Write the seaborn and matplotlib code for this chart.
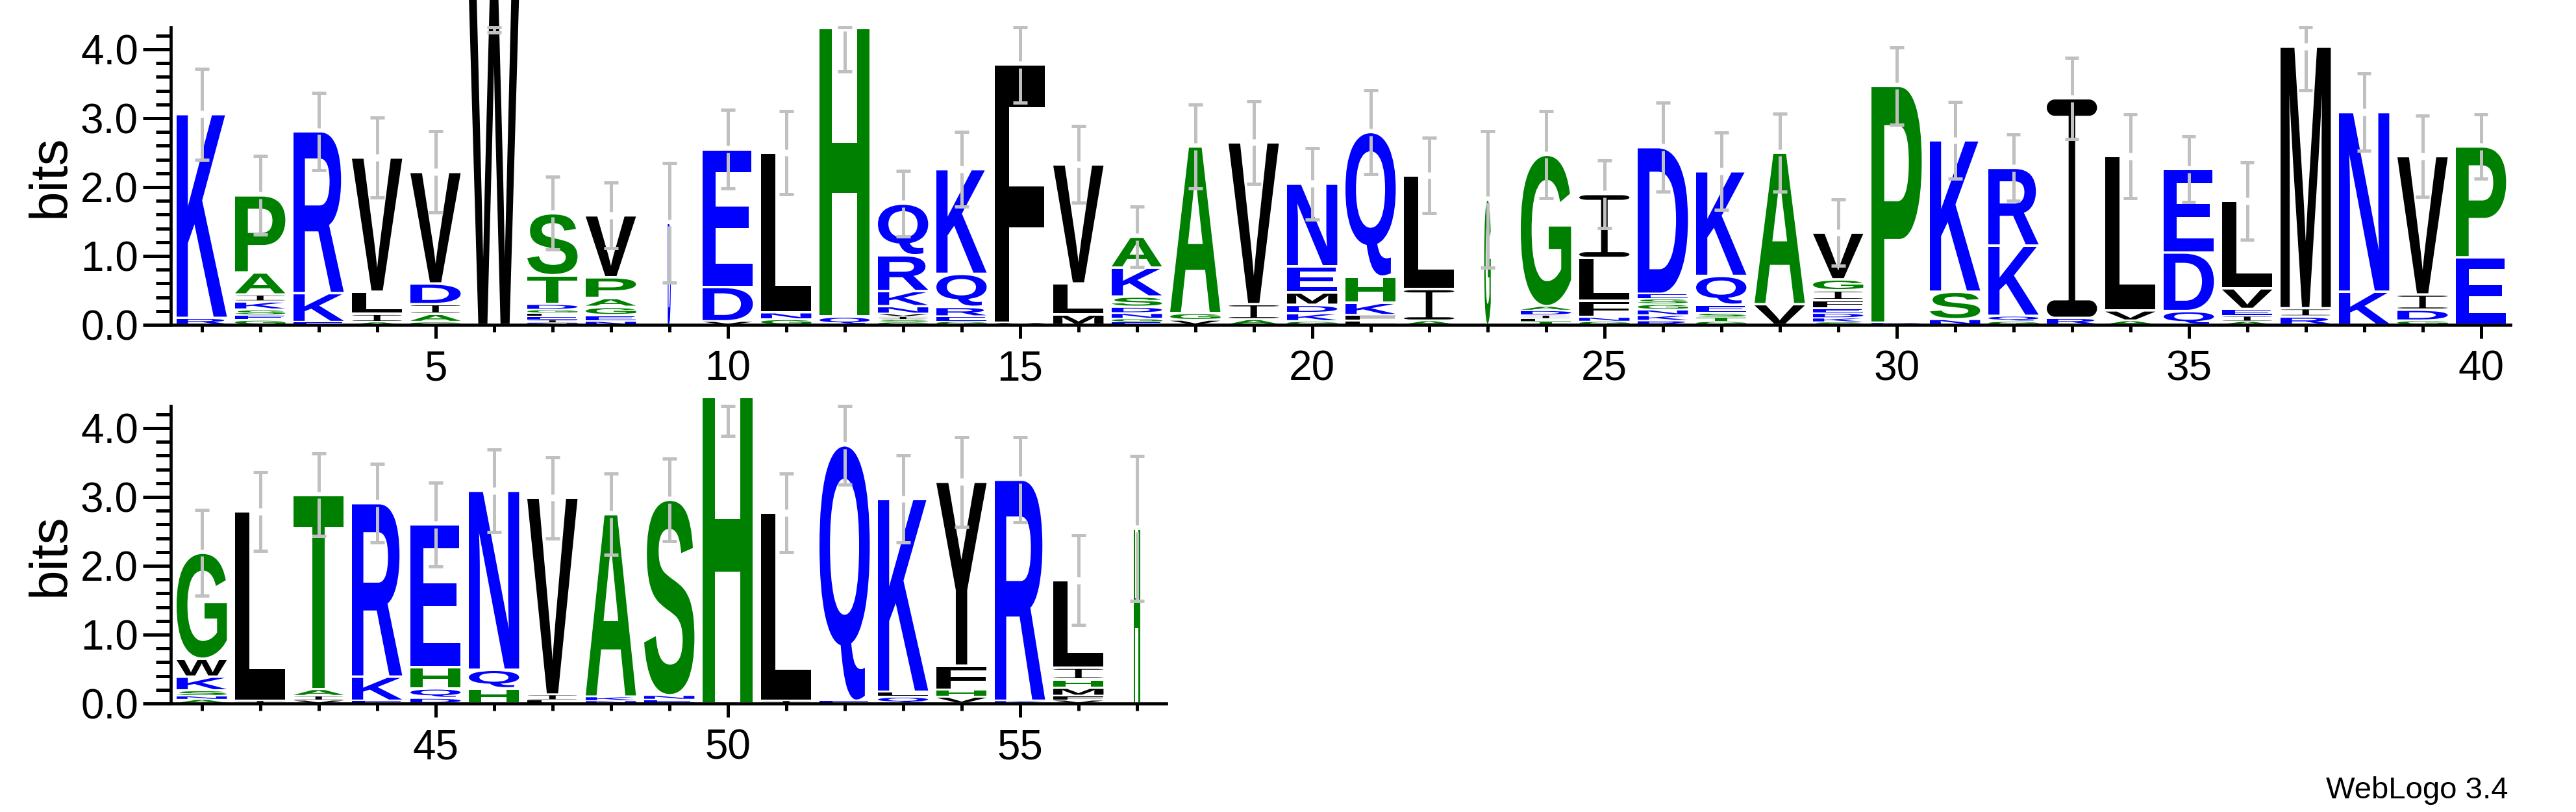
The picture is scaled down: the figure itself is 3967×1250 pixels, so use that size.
import matplotlib
matplotlib.use("Agg")
import numpy as np
import seaborn as sns
import matplotlib.pyplot as plt
from matplotlib.textpath import TextPath
from matplotlib.patches import PathPatch
from matplotlib.path import Path
from matplotlib.font_manager import FontProperties
from matplotlib.transforms import Affine2D
from matplotlib.ticker import MultipleLocator, FixedLocator

sns.set_theme(style="ticks")
plt.rcParams['font.family'] = ['Liberation Sans', 'DejaVu Sans']

# letters of each column, bottom -> top, with their heights in bits
letters = [
    "RK", "GESKIAP", "EKR", "AILV", "GAIDV", "W", "NIELGDTS", "NEGAPV", "D", "VDE",
    "GNL", "QH", "GSIVNKRQ", "GERQK", "VF", "MLV", "EGNDSKA", "VGA", "AIV", "GKDMEN",
    "LFKHQ", "AIL", "G", "TLIDAG", "GNFLI", "RKNGSED", "GTSEQK", "VA", "SKDEFIGV", "DP",
    "NSK", "GQKR", "RI", "AVL", "QDE", "AIEVL", "RIM", "KN", "GDIV", "EP",
    "ANSKWG", "IL", "VIAT", "EKR", "DQHE", "HQN", "LIV", "NKA", "ENS", "H",
    "IL", "EQ", "QLK", "VHFY", "KR", "VFMHIL", "H",
]
heights = [
    [0.10, 2.96], [0.07, 0.07, 0.08, 0.12, 0.10, 0.32, 1.12], [0.04, 0.42, 2.35],
    [0.04, 0.12, 0.32, 1.95], [0.04, 0.12, 0.14, 0.30, 1.62], [4.80],
    [0.03, 0.04, 0.05, 0.05, 0.05, 0.08, 0.42, 0.90], [0.05, 0.09, 0.12, 0.13, 0.30, 0.90],
    [1.48], [0.05, 0.50, 2.00], [0.08, 0.10, 2.32], [0.12, 4.19],
    [0.04, 0.04, 0.04, 0.04, 0.11, 0.22, 0.52, 0.75], [0.05, 0.07, 0.14, 0.48, 1.52],
    [0.03, 3.75], [0.15, 0.45, 1.73], [0.04, 0.05, 0.08, 0.09, 0.15, 0.42, 0.45],
    [0.07, 0.10, 2.42], [0.08, 0.22, 2.35], [0.05, 0.12, 0.12, 0.18, 0.38, 1.20],
    [0.06, 0.08, 0.18, 0.38, 2.10], [0.06, 0.46, 1.65], [1.82],
    [0.05, 0.04, 0.05, 0.07, 0.06, 2.20], [0.05, 0.06, 0.24, 0.62, 0.93],
    [0.06, 0.08, 0.08, 0.08, 0.08, 0.07, 2.13], [0.05, 0.06, 0.06, 0.12, 0.42, 1.52],
    [0.30, 2.20], [0.04, 0.06, 0.07, 0.07, 0.12, 0.14, 0.16, 0.68], [0.03, 3.44],
    [0.08, 0.40, 2.20], [0.05, 0.08, 1.02, 1.13], [0.10, 3.19], [0.06, 0.15, 2.24],
    [0.20, 0.85, 1.21], [0.05, 0.08, 0.10, 0.30, 1.27], [0.12, 0.12, 3.80],
    [0.48, 2.61], [0.06, 0.16, 0.22, 2.01], [0.98, 1.61],
    [0.06, 0.05, 0.08, 0.20, 0.26, 1.54], [0.04, 2.75], [0.05, 0.06, 0.10, 2.82],
    [0.04, 0.35, 2.52], [0.08, 0.14, 0.31, 2.07], [0.22, 0.27, 2.60], [0.05, 0.08, 2.86],
    [0.04, 0.06, 2.65], [0.06, 0.06, 2.84], [4.45], [0.04, 2.73], [0.04, 3.71],
    [0.10, 0.07, 2.80], [0.10, 0.10, 0.35, 2.67], [0.04, 3.21],
    [0.05, 0.06, 0.12, 0.12, 0.17, 1.27], [2.54],
]
err_half = [
    0.66, 0.57, 0.56, 0.58, 0.59, 0.55, 0.53, 0.48, 0.87, 0.57,
    0.60, 0.63, 0.48, 0.54, 0.55, 0.56, 0.44, 0.61, 0.60, 0.52,
    0.61, 0.55, 0.99, 0.63, 0.49, 0.65, 0.56, 0.57, 0.48, 0.56,
    0.56, 0.48, 0.59, 0.61, 0.48, 0.56, 0.63, 0.56, 0.59, 0.47,
    0.62, 0.57, 0.60, 0.57, 0.61, 0.60, 0.59, 0.59, 0.60, 0.56,
    0.57, 0.57, 0.63, 0.65, 0.62, 0.65, 1.05,
]
# columns with many gaps are drawn narrower
narrow_cols = {9: 0.06, 23: 0.13, 57: 0.13}

rows = [(1, 40), (41, 57)]
row_ticks = [[5, 10, 15, 20, 25, 30, 35, 40], [45, 50, 55]]
yticks = [0, 1, 2, 3, 4]

# hydrophobicity colour scheme
COLORS = {}
for c in "RKDENQ":
    COLORS[c] = "#0000ff"
for c in "SGHTAP":
    COLORS[c] = "#008000"
for c in "YVMCLFIW":
    COLORS[c] = "#000000"

YMAX = 4.32
BOX_W = 0.86
GRAY = "#c0c0c0"
GLYPH_FONT = FontProperties(family="Liberation Sans", weight="bold")


def rounded_box(x0, y0, x1, y1, rx, ry):
    k = 0.5523
    v = [(x0 + rx, y0), (x1 - rx, y0),
         (x1 - rx + k * rx, y0), (x1, y0 + ry - k * ry), (x1, y0 + ry),
         (x1, y1 - ry),
         (x1, y1 - ry + k * ry), (x1 - rx + k * rx, y1), (x1 - rx, y1),
         (x0 + rx, y1),
         (x0 + rx - k * rx, y1), (x0, y1 - ry + k * ry), (x0, y1 - ry),
         (x0, y0 + ry),
         (x0, y0 + ry - k * ry), (x0 + rx - k * rx, y0), (x0 + rx, y0),
         (x0 + rx, y0)]
    c = ([Path.MOVETO, Path.LINETO] + [Path.CURVE4] * 3 + [Path.LINETO] +
         [Path.CURVE4] * 3 + [Path.LINETO] + [Path.CURVE4] * 3 + [Path.LINETO] +
         [Path.CURVE4] * 3 + [Path.CLOSEPOLY])
    return v, c


def glyph_path(ch):
    if ch != "I":
        return TextPath((0, 0), ch, size=1, prop=GLYPH_FONT)
    # serifed I as drawn by WebLogo
    sh = 0.075
    verts, codes = [], []
    for box in [(0, 0, 1, sh), (0, 1 - sh, 1, 1)]:
        v, c = rounded_box(*box, 0.16, sh / 2)
        verts += v
        codes += c
    v = [(0.435, sh * 0.5), (0.565, sh * 0.5), (0.565, 1 - sh * 0.5),
         (0.435, 1 - sh * 0.5), (0.435, sh * 0.5)]
    verts += v
    codes += [Path.MOVETO, Path.LINETO, Path.LINETO, Path.LINETO, Path.CLOSEPOLY]
    return Path(verts, codes)


def draw_letter(ax, ch, x, y, w, h):
    path = glyph_path(ch)
    ext = path.get_extents()
    pad = min(0.018, h * 0.15)
    tr = (Affine2D().translate(-ext.x0, -ext.y0)
          .scale(w / ext.width, (h - 2 * pad) / ext.height)
          .translate(x, y + pad))
    ax.add_patch(PathPatch(tr.transform_path(path), fc=COLORS[ch], ec="none",
                           lw=0, clip_on=False, zorder=2))


def draw_row(ax, first, last):
    for p in range(first, last + 1):
        i = p - 1
        w = BOX_W * narrow_cols.get(p, 1.0)
        y = 0.0
        for ch, h in zip(letters[i], heights[i]):
            draw_letter(ax, ch, p - w / 2, y, w, h)
            y += h
        # error bar, clipped to the maximum
        lo = y - err_half[i]
        hi = min(y + err_half[i], YMAX)
        g = 0.05
        kw = dict(color=GRAY, lw=3.6, solid_capstyle="butt", clip_on=False, zorder=3)
        ax.plot([p, p], [lo, min(y - g, hi)], **kw)
        if y + g < hi:
            ax.plot([p, p], [y + g, hi], **kw)
        for yy in (lo, hi):
            ax.plot([p - 0.12, p + 0.12], [yy, yy], **kw)


fig = plt.figure(figsize=(39.67, 12.5), dpi=100)
W, H = 3967.0, 1250.0
px_unit = 90.0
bit_px = 106.0
axes_pos = [
    [263 / W, 1 - 500 / H, 40.03 * px_unit / W, YMAX * bit_px / H],
    [263 / W, 1 - 1083 / H, 17.03 * px_unit / W, YMAX * bit_px / H],
]

for (first, last), ticks, pos in zip(rows, row_ticks, axes_pos):
    ax = fig.add_axes(pos)
    ax.set_facecolor("white")
    draw_row(ax, first, last)
    ax.set_xlim(first - 0.53, last + 0.5)
    ax.set_ylim(0, YMAX)
    sns.despine(ax=ax)
    for s in ("left", "bottom"):
        ax.spines[s].set_linewidth(3.4)
        ax.spines[s].set_color("black")
    ax.set_yticks(yticks)
    ax.set_yticklabels(["%.1f" % v for v in yticks])
    ax.yaxis.set_minor_locator(MultipleLocator(0.2))
    ax.set_xticks(ticks)
    ax.set_xticklabels([str(t) for t in ticks])
    ax.xaxis.set_minor_locator(FixedLocator(list(range(first, last + 1))))
    ax.tick_params(axis="y", which="major", length=31, width=3.6, labelsize=46,
                   pad=5, color="black", labelcolor="black")
    ax.tick_params(axis="y", which="minor", length=16.5, width=3.6, color="black")
    ax.tick_params(axis="x", which="major", length=15, width=3.6, labelsize=46,
                   pad=13, color="black", labelcolor="black")
    ax.tick_params(axis="x", which="minor", length=8, width=3.6, color="black")
    ax.set_ylabel("bits", fontsize=59, labelpad=6, color="black")
    ax.grid(False)

fig.text(3863 / W, 1 - 1217 / H, "WebLogo 3.4", ha="right", va="center",
         fontsize=34, color="black")

fig.savefig("out.png", dpi=100, facecolor="white")
